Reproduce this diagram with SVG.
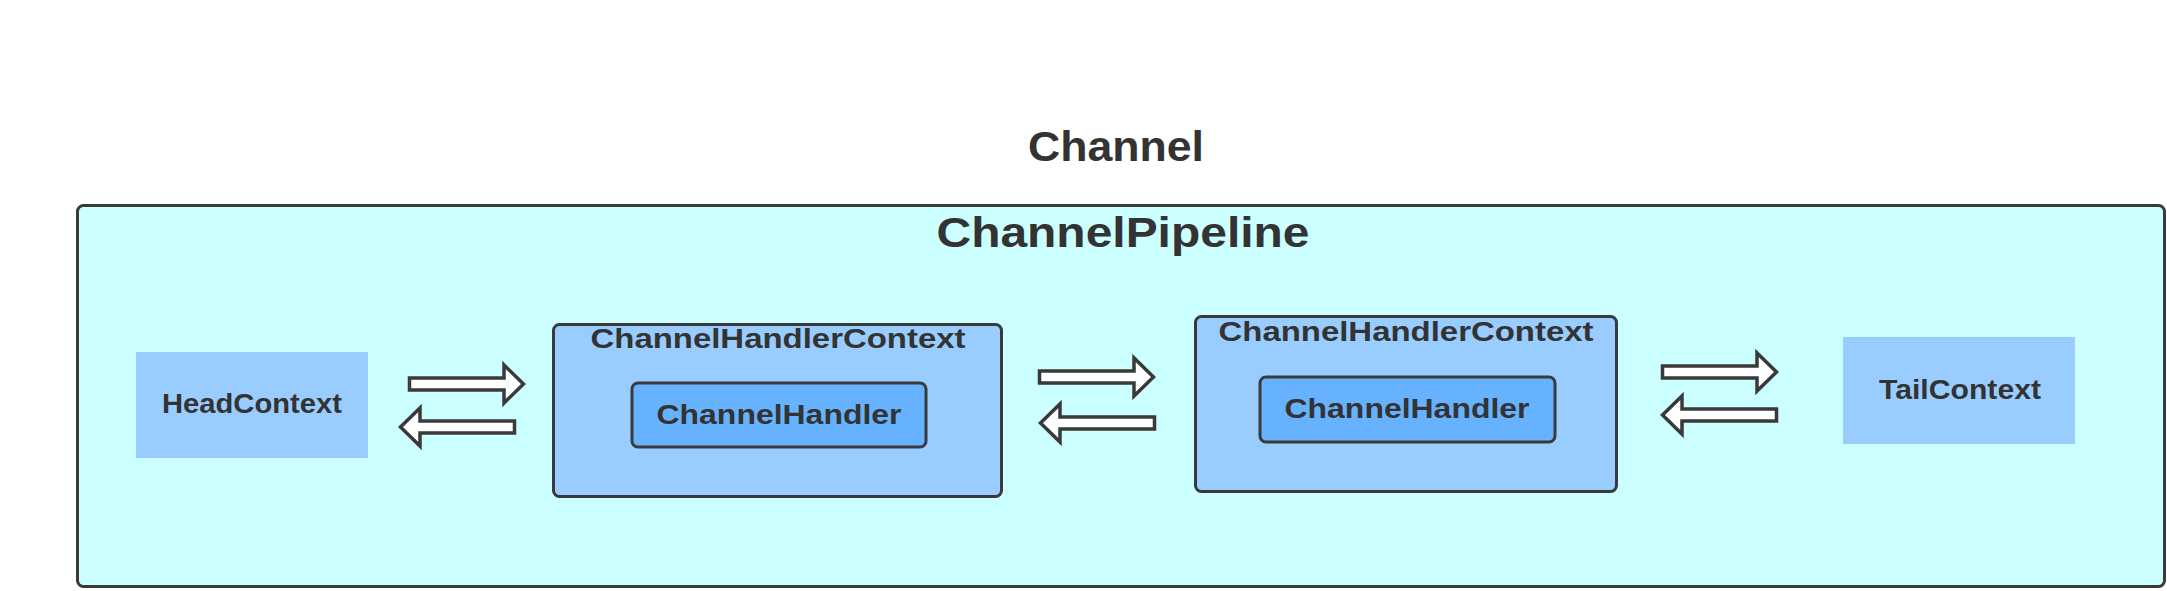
<svg xmlns="http://www.w3.org/2000/svg" xmlns:xlink="http://www.w3.org/1999/xlink" width="2167" height="591" viewBox="0 0 2167 591">
  <style>
    .t { font-family: "Liberation Sans", Arial, sans-serif; font-weight: bold; fill: #333333; text-anchor: middle; }
    .ctx { fill: #99ccff; }
    .box { fill: #99ccff; stroke: #3a3a3a; stroke-width: 3; }
    .inner { fill: #66b2ff; stroke: #3a3a3a; stroke-width: 3; }
    .arrow { fill: #ffffff; stroke: #3a3a3a; stroke-width: 3.5; stroke-linejoin: miter; }
  </style>
  <defs>
    <path id="arr" d="M1.5,-6 L96,-6 L96,-19 L115.5,0 L96,19 L96,6 L1.5,6 Z"/>
  </defs>
  <rect width="2167" height="591" fill="#ffffff"/>

  <g id="channel">
    <text class="t" x="1116" y="161" font-size="42" textLength="176" lengthAdjust="spacingAndGlyphs">Channel</text>
  </g>

  <g id="pipeline">
    <rect x="77.5" y="205.5" width="2087" height="381" rx="6" fill="#ccffff" stroke="#3a3a3a" stroke-width="3"/>
    <text class="t" x="1123" y="247" font-size="42" textLength="373" lengthAdjust="spacingAndGlyphs">ChannelPipeline</text>
  </g>

  <g id="head-context">
    <rect class="ctx" x="136" y="352" width="232" height="106"/>
    <text class="t" x="252" y="413" font-size="27" textLength="180" lengthAdjust="spacingAndGlyphs">HeadContext</text>
  </g>

  <g id="handler-context-1">
    <rect class="box" x="553.5" y="324.5" width="448" height="172" rx="6"/>
    <text class="t" x="778" y="348" font-size="27" textLength="375" lengthAdjust="spacingAndGlyphs">ChannelHandlerContext</text>
    <g id="handler-1">
      <rect class="inner" x="632" y="383" width="294" height="64" rx="6"/>
      <text class="t" x="779" y="424" font-size="28" textLength="245" lengthAdjust="spacingAndGlyphs">ChannelHandler</text>
    </g>
  </g>

  <g id="handler-context-2">
    <rect class="box" x="1195.5" y="316.5" width="421" height="175" rx="6"/>
    <text class="t" x="1406" y="341" font-size="27" textLength="375" lengthAdjust="spacingAndGlyphs">ChannelHandlerContext</text>
    <g id="handler-2">
      <rect class="inner" x="1260" y="377" width="295" height="65" rx="6"/>
      <text class="t" x="1407" y="418" font-size="28" textLength="245" lengthAdjust="spacingAndGlyphs">ChannelHandler</text>
    </g>
  </g>

  <g id="tail-context">
    <rect class="ctx" x="1843" y="337" width="232" height="107"/>
    <text class="t" x="1960" y="399" font-size="27" textLength="162" lengthAdjust="spacingAndGlyphs">TailContext</text>
  </g>

  <g id="connectors">
    <use xlink:href="#arr" class="arrow" transform="translate(408,384)"/>
    <use xlink:href="#arr" class="arrow" transform="translate(516,427) scale(-1,1)"/>
    <use xlink:href="#arr" class="arrow" transform="translate(1038,377)"/>
    <use xlink:href="#arr" class="arrow" transform="translate(1156,423) scale(-1,1)"/>
    <use xlink:href="#arr" class="arrow" transform="translate(1661,372)"/>
    <use xlink:href="#arr" class="arrow" transform="translate(1778,415) scale(-1,1)"/>
  </g>
</svg>
